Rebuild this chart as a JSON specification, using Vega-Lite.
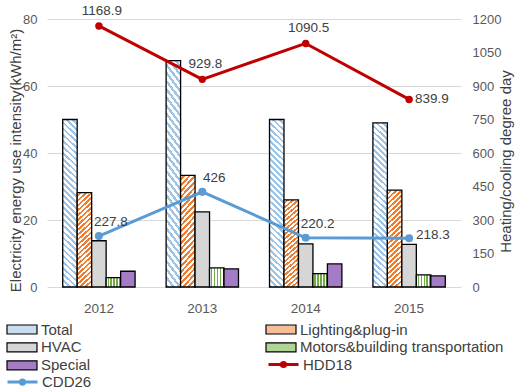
{
  "$schema": "https://vega.github.io/schema/vega-lite/v6.json",
  "width": 414,
  "height": 268,
  "autosize": {"type": "none"},
  "padding": {"left": 47, "top": 19, "right": 58, "bottom": 102},
  "background": "white",
  "config": {
    "font": "Liberation Sans",
    "view": {"stroke": null},
    "axis": {
      "labelFont": "Liberation Sans",
      "titleFont": "Liberation Sans",
      "labelColor": "#595959",
      "titleColor": "#404040",
      "titleFontWeight": "normal",
      "domain": false,
      "ticks": false,
      "tickSize": 0
    },
    "legend": {
      "title": null,
      "orient": "none",
      "rowPadding": 0,
      "clipHeight": 17.6,
      "padding": 0,
      "symbolSize": 900,
      "symbolOpacity": 1,
      "labelOffset": 3,
      "labelLimit": 300,
      "labelFont": "Liberation Sans",
      "labelFontSize": 15,
      "labelColor": "#404040",
      "labelBaseline": "middle"
    }
  },
  "datasets": {
    "energy": [
      {"year": 2012, "series": "Total", "value": 50.0},
      {"year": 2012, "series": "Lighting&plug-in", "value": 28.2},
      {"year": 2012, "series": "HVAC", "value": 13.8},
      {"year": 2012, "series": "Motors&building transportation", "value": 2.8},
      {"year": 2012, "series": "Special", "value": 4.7},
      {"year": 2013, "series": "Total", "value": 67.6},
      {"year": 2013, "series": "Lighting&plug-in", "value": 33.3},
      {"year": 2013, "series": "HVAC", "value": 22.4},
      {"year": 2013, "series": "Motors&building transportation", "value": 5.7},
      {"year": 2013, "series": "Special", "value": 5.4},
      {"year": 2014, "series": "Total", "value": 50.0},
      {"year": 2014, "series": "Lighting&plug-in", "value": 26.0},
      {"year": 2014, "series": "HVAC", "value": 12.9},
      {"year": 2014, "series": "Motors&building transportation", "value": 4.0},
      {"year": 2014, "series": "Special", "value": 6.9},
      {"year": 2015, "series": "Total", "value": 49.0},
      {"year": 2015, "series": "Lighting&plug-in", "value": 28.9},
      {"year": 2015, "series": "HVAC", "value": 12.7},
      {"year": 2015, "series": "Motors&building transportation", "value": 3.6},
      {"year": 2015, "series": "Special", "value": 3.3}
    ],
    "degreeDays": [
      {"year": 2012, "series": "HDD18", "value": 1168.9},
      {"year": 2013, "series": "HDD18", "value": 929.8},
      {"year": 2014, "series": "HDD18", "value": 1090.5},
      {"year": 2015, "series": "HDD18", "value": 839.9},
      {"year": 2012, "series": "CDD26", "value": 227.8},
      {"year": 2013, "series": "CDD26", "value": 426},
      {"year": 2014, "series": "CDD26", "value": 220.2},
      {"year": 2015, "series": "CDD26", "value": 218.3}
    ]
  },
  "layer": [
    {
      "data": {"name": "energy"},
      "mark": {"type": "bar", "stroke": "#000000", "strokeWidth": 1.3},
      "encoding": {
        "x": {
          "field": "year",
          "type": "ordinal",
          "scale": {"paddingInner": 0.3, "paddingOuter": 0.152},
          "axis": {"title": null, "labelAngle": 0, "labelFontSize": 13.5, "labelPadding": 14}
        },
        "xOffset": {
          "field": "series",
          "scale": {
            "domain": ["Total", "Lighting&plug-in", "HVAC", "Motors&building transportation", "Special"],
            "paddingInner": 0,
            "paddingOuter": 0
          }
        },
        "y": {
          "field": "value",
          "type": "quantitative",
          "scale": {"domain": [0, 80]},
          "axis": {
            "values": [0, 20, 40, 60, 80],
            "grid": true,
            "gridColor": "#d9d9d9",
            "gridWidth": 1,
            "labelFontSize": 13,
            "labelPadding": 10,
            "title": "Electricity energy use intensity(kWh/m²)",
            "titleFontSize": 15,
            "titleAngle": 270,
            "titleAlign": "center",
            "titleBaseline": "middle",
            "titleX": -32,
            "titleY": 141
          }
        },
        "color": {
          "condition": [
            {
              "test": "datum.series === 'Total'",
              "value": {
                "gradient": "linear", "x1": 1, "y1": 0, "x2": 0.9103, "y2": 1.076,
                "stops": [
                  {"offset": 0, "color": "#ffffff"}, {"offset": 0.0183, "color": "#ffffff"}, {"offset": 0.0183, "color": "#9dc3e6"}, {"offset": 0.0333, "color": "#9dc3e6"},
                  {"offset": 0.0333, "color": "#ffffff"}, {"offset": 0.0517, "color": "#ffffff"}, {"offset": 0.0517, "color": "#9dc3e6"}, {"offset": 0.0667, "color": "#9dc3e6"},
                  {"offset": 0.0667, "color": "#ffffff"}, {"offset": 0.085, "color": "#ffffff"}, {"offset": 0.085, "color": "#9dc3e6"}, {"offset": 0.1, "color": "#9dc3e6"},
                  {"offset": 0.1, "color": "#ffffff"}, {"offset": 0.1183, "color": "#ffffff"}, {"offset": 0.1183, "color": "#9dc3e6"}, {"offset": 0.1333, "color": "#9dc3e6"},
                  {"offset": 0.1333, "color": "#ffffff"}, {"offset": 0.1517, "color": "#ffffff"}, {"offset": 0.1517, "color": "#9dc3e6"}, {"offset": 0.1667, "color": "#9dc3e6"},
                  {"offset": 0.1667, "color": "#ffffff"}, {"offset": 0.185, "color": "#ffffff"}, {"offset": 0.185, "color": "#9dc3e6"}, {"offset": 0.2, "color": "#9dc3e6"},
                  {"offset": 0.2, "color": "#ffffff"}, {"offset": 0.2183, "color": "#ffffff"}, {"offset": 0.2183, "color": "#9dc3e6"}, {"offset": 0.2333, "color": "#9dc3e6"},
                  {"offset": 0.2333, "color": "#ffffff"}, {"offset": 0.2517, "color": "#ffffff"}, {"offset": 0.2517, "color": "#9dc3e6"}, {"offset": 0.2667, "color": "#9dc3e6"},
                  {"offset": 0.2667, "color": "#ffffff"}, {"offset": 0.285, "color": "#ffffff"}, {"offset": 0.285, "color": "#9dc3e6"}, {"offset": 0.3, "color": "#9dc3e6"},
                  {"offset": 0.3, "color": "#ffffff"}, {"offset": 0.3183, "color": "#ffffff"}, {"offset": 0.3183, "color": "#9dc3e6"}, {"offset": 0.3333, "color": "#9dc3e6"},
                  {"offset": 0.3333, "color": "#ffffff"}, {"offset": 0.3517, "color": "#ffffff"}, {"offset": 0.3517, "color": "#9dc3e6"}, {"offset": 0.3667, "color": "#9dc3e6"},
                  {"offset": 0.3667, "color": "#ffffff"}, {"offset": 0.385, "color": "#ffffff"}, {"offset": 0.385, "color": "#9dc3e6"}, {"offset": 0.4, "color": "#9dc3e6"},
                  {"offset": 0.4, "color": "#ffffff"}, {"offset": 0.4183, "color": "#ffffff"}, {"offset": 0.4183, "color": "#9dc3e6"}, {"offset": 0.4333, "color": "#9dc3e6"},
                  {"offset": 0.4333, "color": "#ffffff"}, {"offset": 0.4517, "color": "#ffffff"}, {"offset": 0.4517, "color": "#9dc3e6"}, {"offset": 0.4667, "color": "#9dc3e6"},
                  {"offset": 0.4667, "color": "#ffffff"}, {"offset": 0.485, "color": "#ffffff"}, {"offset": 0.485, "color": "#9dc3e6"}, {"offset": 0.5, "color": "#9dc3e6"},
                  {"offset": 0.5, "color": "#ffffff"}, {"offset": 0.5183, "color": "#ffffff"}, {"offset": 0.5183, "color": "#9dc3e6"}, {"offset": 0.5333, "color": "#9dc3e6"},
                  {"offset": 0.5333, "color": "#ffffff"}, {"offset": 0.5517, "color": "#ffffff"}, {"offset": 0.5517, "color": "#9dc3e6"}, {"offset": 0.5667, "color": "#9dc3e6"},
                  {"offset": 0.5667, "color": "#ffffff"}, {"offset": 0.585, "color": "#ffffff"}, {"offset": 0.585, "color": "#9dc3e6"}, {"offset": 0.6, "color": "#9dc3e6"},
                  {"offset": 0.6, "color": "#ffffff"}, {"offset": 0.6183, "color": "#ffffff"}, {"offset": 0.6183, "color": "#9dc3e6"}, {"offset": 0.6333, "color": "#9dc3e6"},
                  {"offset": 0.6333, "color": "#ffffff"}, {"offset": 0.6517, "color": "#ffffff"}, {"offset": 0.6517, "color": "#9dc3e6"}, {"offset": 0.6667, "color": "#9dc3e6"},
                  {"offset": 0.6667, "color": "#ffffff"}, {"offset": 0.685, "color": "#ffffff"}, {"offset": 0.685, "color": "#9dc3e6"}, {"offset": 0.7, "color": "#9dc3e6"},
                  {"offset": 0.7, "color": "#ffffff"}, {"offset": 0.7183, "color": "#ffffff"}, {"offset": 0.7183, "color": "#9dc3e6"}, {"offset": 0.7333, "color": "#9dc3e6"},
                  {"offset": 0.7333, "color": "#ffffff"}, {"offset": 0.7517, "color": "#ffffff"}, {"offset": 0.7517, "color": "#9dc3e6"}, {"offset": 0.7667, "color": "#9dc3e6"},
                  {"offset": 0.7667, "color": "#ffffff"}, {"offset": 0.785, "color": "#ffffff"}, {"offset": 0.785, "color": "#9dc3e6"}, {"offset": 0.8, "color": "#9dc3e6"},
                  {"offset": 0.8, "color": "#ffffff"}, {"offset": 0.8183, "color": "#ffffff"}, {"offset": 0.8183, "color": "#9dc3e6"}, {"offset": 0.8333, "color": "#9dc3e6"},
                  {"offset": 0.8333, "color": "#ffffff"}, {"offset": 0.8517, "color": "#ffffff"}, {"offset": 0.8517, "color": "#9dc3e6"}, {"offset": 0.8667, "color": "#9dc3e6"},
                  {"offset": 0.8667, "color": "#ffffff"}, {"offset": 0.885, "color": "#ffffff"}, {"offset": 0.885, "color": "#9dc3e6"}, {"offset": 0.9, "color": "#9dc3e6"},
                  {"offset": 0.9, "color": "#ffffff"}, {"offset": 0.9183, "color": "#ffffff"}, {"offset": 0.9183, "color": "#9dc3e6"}, {"offset": 0.9333, "color": "#9dc3e6"},
                  {"offset": 0.9333, "color": "#ffffff"}, {"offset": 0.9517, "color": "#ffffff"}, {"offset": 0.9517, "color": "#9dc3e6"}, {"offset": 0.9667, "color": "#9dc3e6"},
                  {"offset": 0.9667, "color": "#ffffff"}, {"offset": 0.985, "color": "#ffffff"}, {"offset": 0.985, "color": "#9dc3e6"}, {"offset": 1, "color": "#9dc3e6"}
                ]
              }
            },
            {
              "test": "datum.series === 'Lighting&plug-in'",
              "value": {
                "gradient": "linear", "x1": 0, "y1": 0, "x2": 0.1566, "y2": 1.118,
                "stops": [
                  {"offset": 0, "color": "#ffffff"}, {"offset": 0.0227, "color": "#ffffff"}, {"offset": 0.0227, "color": "#ed7d31"}, {"offset": 0.0455, "color": "#ed7d31"},
                  {"offset": 0.0455, "color": "#ffffff"}, {"offset": 0.0682, "color": "#ffffff"}, {"offset": 0.0682, "color": "#ed7d31"}, {"offset": 0.0909, "color": "#ed7d31"},
                  {"offset": 0.0909, "color": "#ffffff"}, {"offset": 0.1136, "color": "#ffffff"}, {"offset": 0.1136, "color": "#ed7d31"}, {"offset": 0.1364, "color": "#ed7d31"},
                  {"offset": 0.1364, "color": "#ffffff"}, {"offset": 0.1591, "color": "#ffffff"}, {"offset": 0.1591, "color": "#ed7d31"}, {"offset": 0.1818, "color": "#ed7d31"},
                  {"offset": 0.1818, "color": "#ffffff"}, {"offset": 0.2045, "color": "#ffffff"}, {"offset": 0.2045, "color": "#ed7d31"}, {"offset": 0.2273, "color": "#ed7d31"},
                  {"offset": 0.2273, "color": "#ffffff"}, {"offset": 0.25, "color": "#ffffff"}, {"offset": 0.25, "color": "#ed7d31"}, {"offset": 0.2727, "color": "#ed7d31"},
                  {"offset": 0.2727, "color": "#ffffff"}, {"offset": 0.2955, "color": "#ffffff"}, {"offset": 0.2955, "color": "#ed7d31"}, {"offset": 0.3182, "color": "#ed7d31"},
                  {"offset": 0.3182, "color": "#ffffff"}, {"offset": 0.3409, "color": "#ffffff"}, {"offset": 0.3409, "color": "#ed7d31"}, {"offset": 0.3636, "color": "#ed7d31"},
                  {"offset": 0.3636, "color": "#ffffff"}, {"offset": 0.3864, "color": "#ffffff"}, {"offset": 0.3864, "color": "#ed7d31"}, {"offset": 0.4091, "color": "#ed7d31"},
                  {"offset": 0.4091, "color": "#ffffff"}, {"offset": 0.4318, "color": "#ffffff"}, {"offset": 0.4318, "color": "#ed7d31"}, {"offset": 0.4545, "color": "#ed7d31"},
                  {"offset": 0.4545, "color": "#ffffff"}, {"offset": 0.4773, "color": "#ffffff"}, {"offset": 0.4773, "color": "#ed7d31"}, {"offset": 0.5, "color": "#ed7d31"},
                  {"offset": 0.5, "color": "#ffffff"}, {"offset": 0.5227, "color": "#ffffff"}, {"offset": 0.5227, "color": "#ed7d31"}, {"offset": 0.5455, "color": "#ed7d31"},
                  {"offset": 0.5455, "color": "#ffffff"}, {"offset": 0.5682, "color": "#ffffff"}, {"offset": 0.5682, "color": "#ed7d31"}, {"offset": 0.5909, "color": "#ed7d31"},
                  {"offset": 0.5909, "color": "#ffffff"}, {"offset": 0.6136, "color": "#ffffff"}, {"offset": 0.6136, "color": "#ed7d31"}, {"offset": 0.6364, "color": "#ed7d31"},
                  {"offset": 0.6364, "color": "#ffffff"}, {"offset": 0.6591, "color": "#ffffff"}, {"offset": 0.6591, "color": "#ed7d31"}, {"offset": 0.6818, "color": "#ed7d31"},
                  {"offset": 0.6818, "color": "#ffffff"}, {"offset": 0.7045, "color": "#ffffff"}, {"offset": 0.7045, "color": "#ed7d31"}, {"offset": 0.7273, "color": "#ed7d31"},
                  {"offset": 0.7273, "color": "#ffffff"}, {"offset": 0.75, "color": "#ffffff"}, {"offset": 0.75, "color": "#ed7d31"}, {"offset": 0.7727, "color": "#ed7d31"},
                  {"offset": 0.7727, "color": "#ffffff"}, {"offset": 0.7955, "color": "#ffffff"}, {"offset": 0.7955, "color": "#ed7d31"}, {"offset": 0.8182, "color": "#ed7d31"},
                  {"offset": 0.8182, "color": "#ffffff"}, {"offset": 0.8409, "color": "#ffffff"}, {"offset": 0.8409, "color": "#ed7d31"}, {"offset": 0.8636, "color": "#ed7d31"},
                  {"offset": 0.8636, "color": "#ffffff"}, {"offset": 0.8864, "color": "#ffffff"}, {"offset": 0.8864, "color": "#ed7d31"}, {"offset": 0.9091, "color": "#ed7d31"},
                  {"offset": 0.9091, "color": "#ffffff"}, {"offset": 0.9318, "color": "#ffffff"}, {"offset": 0.9318, "color": "#ed7d31"}, {"offset": 0.9545, "color": "#ed7d31"},
                  {"offset": 0.9545, "color": "#ffffff"}, {"offset": 0.9773, "color": "#ffffff"}, {"offset": 0.9773, "color": "#ed7d31"}, {"offset": 1, "color": "#ed7d31"}
                ]
              }
            },
            {
              "test": "datum.series === 'Motors&building transportation'",
              "value": {
                "gradient": "linear", "x1": 0, "y1": 0, "x2": 1, "y2": 0,
                "stops": [
                  {"offset": 0, "color": "#ffffff"}, {"offset": 0.1, "color": "#ffffff"}, {"offset": 0.1, "color": "#70ad47"}, {"offset": 0.2, "color": "#70ad47"},
                  {"offset": 0.2, "color": "#ffffff"}, {"offset": 0.3, "color": "#ffffff"}, {"offset": 0.3, "color": "#70ad47"}, {"offset": 0.4, "color": "#70ad47"},
                  {"offset": 0.4, "color": "#ffffff"}, {"offset": 0.5, "color": "#ffffff"}, {"offset": 0.5, "color": "#70ad47"}, {"offset": 0.6, "color": "#70ad47"},
                  {"offset": 0.6, "color": "#ffffff"}, {"offset": 0.7, "color": "#ffffff"}, {"offset": 0.7, "color": "#70ad47"}, {"offset": 0.8, "color": "#70ad47"},
                  {"offset": 0.8, "color": "#ffffff"}, {"offset": 0.9, "color": "#ffffff"}, {"offset": 0.9, "color": "#70ad47"}, {"offset": 1, "color": "#70ad47"}
                ]
              }
            }
          ],
          "field": "series",
          "type": "nominal",
          "scale": {
            "domain": ["Total", "Lighting&plug-in", "HVAC", "Motors&building transportation", "Special"],
            "range": ["#c9dcf0", "#f5be98", "#d6d6d6", "#b0d496", "#a47cc6"]
          },
          "legend": {
            "legendX": -41,
            "legendY": 301.5,
            "direction": "horizontal",
            "columns": 2,
            "columnPadding": 174,
            "symbolType": "M-1,-0.3H1V0.3H-1Z",
            "symbolStrokeColor": "#000000",
            "symbolStrokeWidth": 1.2
          }
        }
      }
    },
    {
      "data": {"name": "degreeDays"},
      "encoding": {
        "x": {"field": "year", "type": "ordinal"},
        "y": {
          "field": "value",
          "type": "quantitative",
          "scale": {"domain": [0, 1200]},
          "axis": {
            "orient": "right",
            "values": [0, 150, 300, 450, 600, 750, 900, 1050, 1200],
            "format": "d",
            "grid": false,
            "labelFontSize": 13,
            "labelPadding": 11,
            "title": "Heating/cooling degree day",
            "titleFontSize": 15,
            "titleAngle": 270,
            "titleAlign": "center",
            "titleBaseline": "middle",
            "titleX": 44,
            "titleY": 142
          }
        }
      },
      "layer": [
        {
          "transform": [{"filter": "datum.series === 'HDD18'"}],
          "mark": {"type": "line", "strokeWidth": 3, "strokeJoin": "round", "strokeCap": "round"},
          "encoding": {
            "stroke": {
              "field": "series",
              "type": "nominal",
              "scale": {"domain": ["HDD18"], "range": ["#c00000"]},
              "legend": {
                "legendX": 220,
                "legendY": 336.7,
                "symbolType": "M-1,0H1M-0.14,0A0.14,0.14 0 1,1 0.14,0A0.14,0.14 0 1,1 -0.14,0Z",
                "symbolStrokeWidth": 3,
                "symbolFillColor": "#c00000"
              }
            }
          }
        },
        {
          "transform": [{"filter": "datum.series === 'CDD26'"}],
          "mark": {"type": "line", "strokeWidth": 3, "strokeJoin": "round", "strokeCap": "round"},
          "encoding": {
            "stroke": {
              "field": "series",
              "type": "nominal",
              "scale": {"domain": ["CDD26"], "range": ["#5b9bd5"]},
              "legend": {
                "legendX": -41,
                "legendY": 354.3,
                "symbolType": "M-1,0H1M-0.14,0A0.14,0.14 0 1,1 0.14,0A0.14,0.14 0 1,1 -0.14,0Z",
                "symbolStrokeWidth": 3,
                "symbolFillColor": "#5b9bd5"
              }
            }
          }
        },
        {
          "transform": [{"filter": "datum.series === 'HDD18'"}],
          "mark": {"type": "point", "filled": true, "opacity": 1, "size": 55, "color": "#c00000"}
        },
        {
          "transform": [{"filter": "datum.series === 'CDD26'"}],
          "mark": {"type": "point", "filled": true, "opacity": 1, "size": 65, "color": "#5b9bd5"}
        },
        {
          "transform": [{"filter": "datum.series === 'HDD18' && datum.year !== 2015"}],
          "mark": {"type": "text", "fontSize": 13.5, "color": "#404040", "align": "center", "baseline": "middle", "dx": 3, "dy": -15},
          "encoding": {"text": {"field": "value", "type": "quantitative"}}
        },
        {
          "transform": [{"filter": "datum.series === 'HDD18' && datum.year === 2015"}],
          "mark": {"type": "text", "fontSize": 13.5, "color": "#404040", "align": "left", "baseline": "middle", "dx": 6, "dy": 0},
          "encoding": {"text": {"field": "value", "type": "quantitative"}}
        },
        {
          "transform": [{"filter": "datum.series === 'CDD26' && datum.year !== 2015"}],
          "mark": {"type": "text", "fontSize": 13.5, "color": "#404040", "align": "center", "baseline": "middle", "dx": 12, "dy": -14},
          "encoding": {"text": {"field": "value", "type": "quantitative"}}
        },
        {
          "transform": [{"filter": "datum.series === 'CDD26' && datum.year === 2015"}],
          "mark": {"type": "text", "fontSize": 13.5, "color": "#404040", "align": "left", "baseline": "middle", "dx": 7, "dy": -3},
          "encoding": {"text": {"field": "value", "type": "quantitative"}}
        }
      ],
      "resolve": {"scale": {"stroke": "independent"}}
    }
  ],
  "resolve": {"scale": {"y": "independent"}}
}
